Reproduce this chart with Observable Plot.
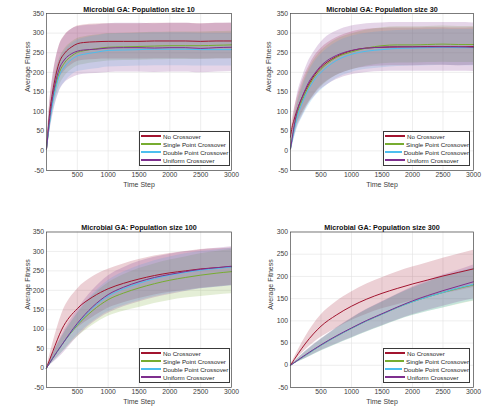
<!DOCTYPE html>
<html><head><meta charset="utf-8">
<script src="https://cdn.jsdelivr.net/npm/d3@7"></script>
<script src="https://cdn.jsdelivr.net/npm/@observablehq/plot@0.6"></script>
<style>
body{margin:0;background:#fff;}
#wrap{position:relative;width:500px;height:417px;background:#fff;font-family:"Liberation Sans",Arial,sans-serif;}
.panel{position:absolute;}
.legend{position:absolute;background:#fff;border:1px solid #3a3a3a;font-size:6.2px;color:#262626;box-sizing:border-box;padding:0 0 0 1px;}
.legend .row{height:8px;display:flex;align-items:center;white-space:nowrap;}
.legend .sw{display:inline-block;width:20px;height:2px;margin-right:2px;}
</style></head><body><div id="wrap"></div>
<script>
// ---- data ----
const seriesNames = ["No Crossover", "Single Point Crossover", "Double Point Crossover", "Uniform Crossover"];
const seriesColors = ["#A2142F", "#77AC30", "#4DBEEE", "#7E2F8E"];
const xTicks = [500, 1000, 1500, 2000, 2500, 3000];
const yTicksA = [-50, 0, 50, 100, 150, 200, 250, 300, 350];
const yTicksB = [-50, 0, 50, 100, 150, 200, 250, 300];
const titles = ["Microbial GA: Population size 10", "Microbial GA: Population size 30", "Microbial GA: Population size 100", "Microbial GA: Population size 300"];

// Population 10
const t10 = [0, 25, 50, 100, 150, 200, 300, 400, 500, 600, 800, 1000, 1250, 1500, 1750, 2000, 2250, 2500, 2750, 3000];
const p10_no      = [5, 50, 95, 150, 192, 222, 250, 264, 273, 276, 278, 279, 279, 279, 280, 280, 280, 279, 280, 280];
const p10_single  = [5, 40, 75, 130, 168, 196, 226, 241, 251, 255, 260, 264, 265, 266, 267, 268, 268, 268, 269, 270];
const p10_double  = [5, 38, 70, 122, 160, 188, 216, 232, 242, 246, 251, 256, 257, 258, 259, 259, 259, 258, 258, 258];
const p10_uniform = [5, 45, 82, 138, 178, 206, 234, 247, 254, 257, 259, 262, 263, 263, 262, 263, 263, 261, 263, 264];
const p10_no_sd      = [0, 15, 25, 35, 40, 42, 45, 45, 45, 45, 45, 45, 45, 45, 45, 45, 45, 45, 45, 45];
const p10_single_sd  = [0, 12, 20, 28, 32, 34, 35, 35, 35, 35, 35, 35, 35, 35, 35, 35, 35, 35, 35, 35];
const p10_double_sd  = [0, 14, 22, 30, 35, 38, 40, 40, 40, 41, 42, 42, 42, 42, 42, 42, 42, 42, 42, 42];
const p10_uniform_sd = [0, 20, 35, 50, 55, 58, 60, 62, 62, 62, 62, 62, 62, 62, 62, 62, 62, 62, 62, 62];

// Population 30
const t30 = [0, 25, 50, 100, 200, 300, 400, 500, 600, 750, 1000, 1250, 1500, 1750, 2000, 2250, 2500, 2750, 3000];
const p30_no      = [35, 60, 75, 100, 140, 170, 195, 213, 226, 240, 255, 262, 264, 265, 265, 266, 266, 265, 266];
const p30_single  = [5, 30, 50, 88, 132, 165, 190, 208, 222, 238, 252, 262, 268, 270, 270, 271, 272, 271, 271];
const p30_double  = [5, 25, 45, 80, 125, 158, 183, 200, 214, 230, 246, 254, 258, 261, 262, 263, 264, 263, 263];
const p30_uniform = [5, 30, 55, 95, 140, 175, 198, 217, 230, 243, 256, 262, 264, 265, 265, 265, 265, 265, 264];
const p30_no_sd      = [0, 15, 22, 30, 40, 45, 48, 48, 48, 48, 48, 48, 48, 48, 48, 48, 48, 48, 48];
const p30_single_sd  = [0, 14, 20, 28, 38, 43, 45, 46, 46, 46, 46, 46, 46, 46, 46, 46, 46, 46, 46];
const p30_double_sd  = [0, 14, 20, 28, 38, 43, 45, 46, 46, 46, 46, 46, 46, 46, 46, 46, 46, 46, 46];
const p30_uniform_sd = [0, 20, 30, 40, 50, 55, 58, 60, 62, 62, 62, 62, 62, 62, 62, 62, 62, 62, 62];

// Population 100
const t100 = [0, 100, 250, 500, 750, 1000, 1250, 1500, 1750, 2000, 2250, 2500, 2750, 3000];
const p100_no      = [0, 42, 100, 153, 183, 204, 218, 229, 238, 245, 250, 255, 258, 261];
const p100_single  = [0, 25, 60, 110, 148, 176, 193, 206, 217, 226, 233, 239, 244, 248];
const p100_double  = [0, 25, 60, 113, 155, 185, 204, 218, 230, 239, 246, 252, 256, 260];
const p100_uniform = [0, 25, 60, 115, 158, 189, 208, 222, 233, 241, 248, 254, 258, 262];
const p100_no_sd      = [0, 20, 40, 50, 52, 50, 50, 50, 50, 50, 50, 50, 49, 48];
const p100_single_sd  = [0, 10, 20, 30, 38, 43, 47, 50, 51, 52, 53, 55, 56, 57];
const p100_double_sd  = [0, 10, 20, 28, 35, 40, 43, 45, 46, 47, 48, 48, 48, 48];
const p100_uniform_sd = [0, 12, 25, 35, 42, 48, 50, 52, 52, 52, 51, 50, 50, 50];

// Population 300
const t300 = [0, 250, 500, 750, 1000, 1250, 1500, 1750, 2000, 2250, 2500, 2750, 3000];
const p300_no      = [0, 50, 88, 113, 133, 149, 162, 173, 183, 192, 201, 209, 217];
const p300_single  = [0, 23, 45, 65, 83, 100, 115, 130, 143, 154, 164, 173, 181];
const p300_double  = [0, 23, 45, 65, 83, 100, 115, 130, 143, 154, 164, 174, 182];
const p300_uniform = [0, 24, 46, 66, 84, 101, 116, 131, 145, 157, 168, 178, 188];
const p300_no_sd      = [0, 15, 25, 30, 32, 34, 35, 37, 38, 39, 40, 41, 42];
const p300_single_sd  = [0, 8, 13, 18, 22, 25, 27, 29, 31, 33, 35, 36, 37];
const p300_double_sd  = [0, 8, 13, 18, 22, 25, 27, 29, 31, 33, 35, 36, 37];
const p300_uniform_sd = [0, 8, 13, 18, 22, 25, 27, 29, 31, 33, 35, 36, 38];

// ---- build ----
function rows(t, m, s) {
  return t.map((x, i) => ({t: x, m: m[i], lo: m[i] - s[i], hi: m[i] + s[i]}));
}

const panels = [
  {title: titles[0], t: t10, means: [p10_no, p10_single, p10_double, p10_uniform], sds: [p10_no_sd, p10_single_sd, p10_double_sd, p10_uniform_sd], yd: [-50, 350], yt: yTicksA, left: 0, top: 0, ml: 46, mr: 19, mt: 13, mb: 40, ylx: -19, leg: [139, 131, 91, 35]},
  {title: titles[1], t: t30, means: [p30_no, p30_single, p30_double, p30_uniform], sds: [p30_no_sd, p30_single_sd, p30_double_sd, p30_uniform_sd], yd: [-50, 350], yt: yTicksA, left: 250, top: 0, ml: 40, mr: 27, mt: 13, mb: 40, ylx: -22, leg: [383, 131, 87, 35]},
  {title: titles[2], t: t100, means: [p100_no, p100_single, p100_double, p100_uniform], sds: [p100_no_sd, p100_single_sd, p100_double_sd, p100_uniform_sd], yd: [-50, 350], yt: yTicksA, left: 0, top: 218, ml: 46, mr: 19, mt: 13.5, mb: 41, ylx: -19, leg: [139, 348, 91, 35]},
  {title: titles[3], t: t300, means: [p300_no, p300_single, p300_double, p300_uniform], sds: [p300_no_sd, p300_single_sd, p300_double_sd, p300_uniform_sd], yd: [-50, 300], yt: yTicksB, left: 250, top: 218, ml: 40, mr: 27, mt: 13.5, mb: 41, ylx: -20, leg: [383, 348, 87, 35]}
];

const wrap = document.getElementById("wrap");
for (const p of panels) {
  const data = p.means.map((m, i) => rows(p.t, m, p.sds[i]));
  const chart = Plot.plot({
    width: 250, height: 210,
    marginLeft: p.ml, marginRight: p.mr, marginTop: p.mt, marginBottom: p.mb,
    style: {fontFamily: "'Liberation Sans', Arial, sans-serif", color: "#404040", background: "transparent"},
    x: {domain: [0, 3000], label: null},
    y: {domain: p.yd, label: null},
    marks: [
      Plot.gridX(xTicks, {stroke: "#e3e3e3", strokeOpacity: 1, strokeWidth: 0.6}),
      Plot.gridY(p.yt, {stroke: "#e3e3e3", strokeOpacity: 1, strokeWidth: 0.6}),
      ...data.map((d, i) => Plot.areaY(d, {x: "t", y1: "lo", y2: "hi", fill: seriesColors[i], fillOpacity: 0.2, curve: "monotone-x"})),
      ...data.map((d, i) => Plot.line(d, {x: "t", y: "m", stroke: seriesColors[i], strokeWidth: 1, curve: "monotone-x"})),
      Plot.frame({stroke: "#4a4a4a", strokeWidth: 0.7}),
      Plot.axisX(xTicks, {tickSize: 0, tickPadding: 2, fontSize: 6.8, tickFormat: d => String(d), label: null, fill: "#404040"}),
      Plot.axisY(p.yt, {tickSize: 0, tickPadding: 2.5, fontSize: 6.8, tickFormat: d => String(d), label: null, fill: "#404040"}),
      Plot.text([p.title], {text: d => d, frameAnchor: "top", dy: -7, fontWeight: "bold", fontSize: 7.2, fill: "#111"}),
      Plot.text(["Time Step"], {text: d => d, frameAnchor: "bottom", dy: 16, fontSize: 7, fill: "#404040"}),
      Plot.text(["Average Fitness"], {text: d => d, frameAnchor: "left", dx: p.ylx, rotate: -90, fontSize: 7, fill: "#404040"})
    ]
  });
  chart.classList.add("panel");
  chart.style.left = p.left + "px";
  chart.style.top = p.top + "px";
  wrap.appendChild(chart);

  const leg = document.createElement("div");
  leg.className = "legend";
  leg.style.left = p.leg[0] + "px";
  leg.style.top = p.leg[1] + "px";
  leg.style.width = p.leg[2] + "px";
  leg.style.height = p.leg[3] + "px";
  seriesNames.forEach((name, i) => {
    const r = document.createElement("div");
    r.className = "row";
    const sw = document.createElement("span");
    sw.className = "sw";
    sw.style.background = seriesColors[i];
    r.appendChild(sw);
    r.appendChild(document.createTextNode(name));
    leg.appendChild(r);
  });
  wrap.appendChild(leg);
}
</script></body></html>
